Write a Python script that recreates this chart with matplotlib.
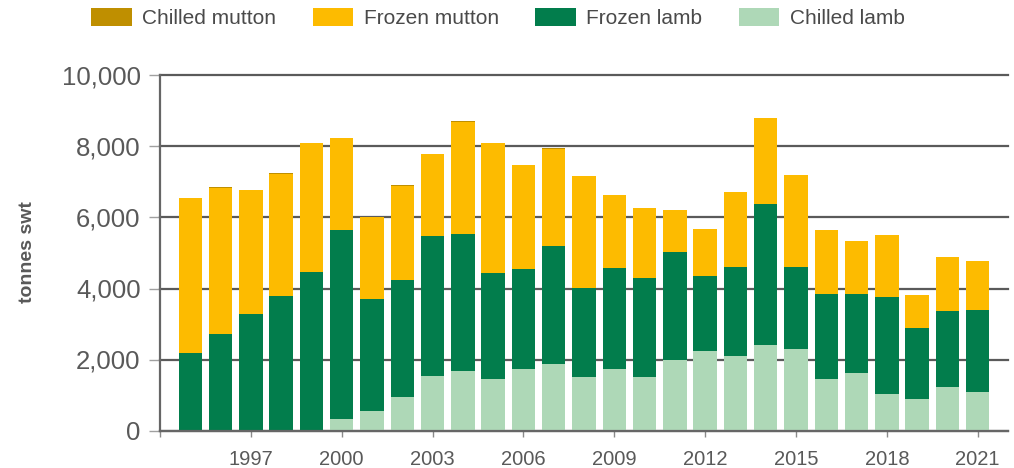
import matplotlib
matplotlib.use("Agg")
import matplotlib.pyplot as plt
import numpy as np

years = list(range(1995, 2022))
chilled_lamb = [0, 0, 0, 0, 0, 330, 536, 931, 1524, 1665, 1439, 1722, 1871, 1505,
                1722, 1505, 1995, 2230, 2107, 2408, 2305, 1458, 1618, 1025, 875, 1214, 1092]
frozen_lamb = [2173, 2718, 3274, 3791, 4478, 5315, 3161, 3322, 3943, 3858, 3001, 2822, 3322, 2511,
               2860, 2804, 3020, 2135, 2493, 3979, 2295, 2399, 2220, 2738, 2004, 2164, 2304]
frozen_mutton = [4367, 4107, 3491, 3434, 3614, 2588, 2315, 2628, 2323, 3160, 3652, 2927, 2745, 3144,
                 2042, 1957, 1194, 1299, 2127, 2410, 2597, 1779, 1496, 1741, 941, 1496, 1365]
chilled_mutton = [0, 25, 0, 20, 0, 0, 0, 25, 0, 30, 0, 0, 30, 0,
                  0, 0, 0, 0, 0, 0, 0, 0, 0, 0, 0, 0, 0]

series = [
    ("Chilled mutton", chilled_mutton, "#BF8F00"),
    ("Frozen mutton", frozen_mutton, "#FDBB00"),
    ("Frozen lamb", frozen_lamb, "#027D4C"),
    ("Chilled lamb", chilled_lamb, "#AED8B7"),
]

plt.rcParams['font.family'] = ['Liberation Sans', 'DejaVu Sans']
fig = plt.figure(figsize=(10.14, 4.68), dpi=100)
ax = fig.add_axes([160/1014, 1 - 430.5/468, 848/1014, 355/468])

x = np.array(years)
bottom = np.zeros(len(years))
handles = {}
# stack bottom to top: chilled lamb, frozen lamb, frozen mutton, chilled mutton
for name, vals, col in reversed(series):
    v = np.array(vals, dtype=float)
    b = ax.bar(x, v, bottom=bottom, width=0.77, color=col, linewidth=0, zorder=3)
    handles[name] = b
    bottom += v

grid_col = "#5a5a5a"
ax.set_ylim(0, 10000)
ax.set_xlim(1994, 2022)
ax.set_yticks(range(0, 10001, 2000))
ax.set_yticklabels([f"{v:,}" for v in range(0, 10001, 2000)])
ax.yaxis.grid(True, color=grid_col, linewidth=1.6, zorder=1)
for gl in ax.yaxis.get_gridlines():
    gl.set_clip_on(False)
ax.set_axisbelow(True)

xt = list(range(1994, 2022, 3))
ax.set_xticks(xt)
ax.set_xticklabels([""] + [str(y) for y in xt[1:]])

for s in ["top", "right"]:
    ax.spines[s].set_visible(False)
ax.spines["left"].set_color("#666666")
ax.spines["left"].set_linewidth(1.6)
ax.spines["bottom"].set_color("#666666")
ax.spines["bottom"].set_linewidth(1.6)
ax.spines["bottom"].set_zorder(4)

ax.tick_params(axis='y', length=8, width=1.0, color="#a0a0a0", pad=6,
               labelsize=18.5, labelcolor="#595959")
ax.tick_params(axis='x', length=4, width=1.0, color="#8a8a8a", pad=10,
               labelsize=14.5, labelcolor="#595959")

fig.text(28/1014, 1 - 252/468, "tonnes swt", rotation=90, ha='center', va='center',
         fontsize=14, fontweight='bold', color="#595959")

leg_handles = [handles[n] for n, _, _ in series]
leg_labels = [n for n, _, _ in series]
fig.legend(leg_handles, leg_labels, loc='center', bbox_to_anchor=(498/1014, 1 - 18/468),
           ncol=4, frameon=False, fontsize=15, handlelength=1.95, handleheight=0.95,
           handletextpad=0.5, columnspacing=1.75, labelcolor="#4a4a4a")

fig.savefig("out.png", dpi=100)
